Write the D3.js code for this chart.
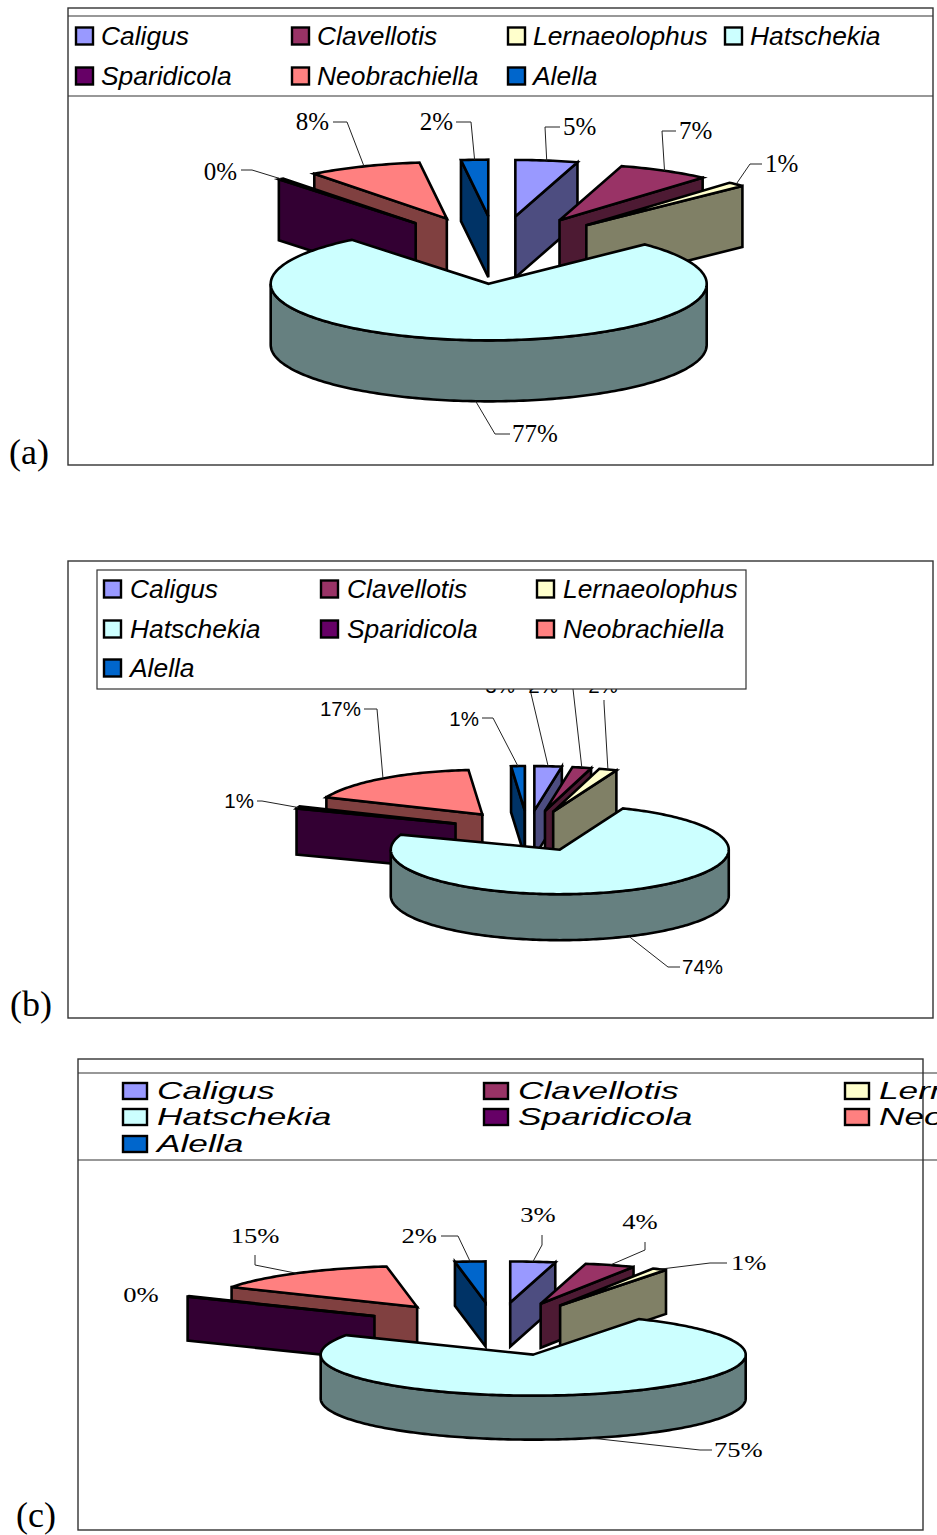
<!DOCTYPE html>
<html>
<head>
<meta charset="utf-8">
<style>
  html, body { margin: 0; padding: 0; background: #fff; }
  svg { display: block; }
</style>
<script src="https://cdnjs.cloudflare.com/ajax/libs/d3/7.8.5/d3.min.js"></script>
</head>
<body>
<div class="canvas"></div>
<script>
//genus names, same order in all three pies
const genera = ['Caligus', 'Clavellotis', 'Lernaeolophus', 'Hatschekia', 'Sparidicola', 'Neobrachiella', 'Alella'];
const genusColors = ['#9999ff', '#993366', '#ffffcc', '#ccffff', '#660066', '#ff8080', '#0066cc'];

//percentages (labels are these values rounded)
const valuesA = [4.6, 6.8, 1.3, 76.5, 0.4, 8.4, 2.0];
const valuesB = [2.6, 1.8, 1.7, 74.4, 0.8, 17.4, 1.3];
const valuesC = [3.4, 3.8, 1.1, 74.6, 0.2, 14.6, 2.3];

//legend column order per panel
const legendRowsA = [['Caligus', 'Clavellotis', 'Lernaeolophus', 'Hatschekia'], ['Sparidicola', 'Neobrachiella', 'Alella']];
const legendRowsB = [['Caligus', 'Clavellotis', 'Lernaeolophus'], ['Hatschekia', 'Sparidicola', 'Neobrachiella'], ['Alella']];
const legendRowsC = [['Caligus', 'Clavellotis', 'Lernaeolophus'], ['Hatschekia', 'Sparidicola', 'Neobrachiella'], ['Alella']];

//panel setup: geometry of the pie and where things sit on the page
const panels = [
  {
    letter: '(a)', letterX: 9, letterY: 464,
    values: valuesA,
    frame: { x: 68, y: 8, w: 865, h: 457 },
    lines: [16, 96],
    cx: 496.5, cy: 250, rx: 218, ry: 56.5, depth: 61, explode: 0.6,
    legendRows: legendRowsA,
    legend: { colX: [76, 292, 508, 725], rowY: [36, 76], swW: 17, swH: 17, textDx: 25, size: 26.4, stretch: 1 },
    labelFont: 'Liberation Serif', labelSize: 25, labelStretch: 1,
    //elbow, end of leader, text position and anchor for each genus
    leaders: [
      { elbow: [545, 127], end: [560, 127], text: [563, 135], anchor: 'start' },
      { elbow: [662, 131], end: [676, 131], text: [679, 139], anchor: 'start' },
      { elbow: [750, 164], end: [762, 164], text: [765, 172], anchor: 'start' },
      { elbow: [495, 434], end: [510, 434], text: [512, 442], anchor: 'start' },
      { elbow: [252, 170], end: [241, 170], text: [237, 180], anchor: 'end' },
      { elbow: [347, 122], end: [333, 122], text: [329, 130], anchor: 'end' },
      { elbow: [471, 122], end: [456, 122], text: [453, 130], anchor: 'end' }
    ]
  },
  {
    letter: '(b)', letterX: 10, letterY: 1016,
    values: valuesB,
    frame: { x: 68, y: 561, w: 865, h: 457 },
    lines: [],
    box: { x: 97, y: 570, w: 649, h: 119 },
    cx: 528, cy: 831, rx: 169, ry: 44.5, depth: 46, explode: 0.46,
    legendRows: legendRowsB,
    legend: { colX: [104, 321, 537], rowY: [589, 629, 668], swW: 17, swH: 17, textDx: 26, size: 26.4, stretch: 1 },
    labelFont: 'Liberation Sans', labelSize: 20.5, labelStretch: 1,
    leaders: [
      { elbow: [529, 685], end: [519, 685], text: [515, 693], anchor: 'end' },
      { elbow: [572, 680], end: [562, 680], text: [558, 693], anchor: 'end' },
      { elbow: [604, 703], end: [604, 700], text: [603, 693], anchor: 'middle' },
      { elbow: [668, 967], end: [680, 967], text: [682, 974], anchor: 'start' },
      { elbow: [262, 801], end: [257, 801], text: [254, 808], anchor: 'end' },
      { elbow: [377, 709], end: [364, 709], text: [361, 716], anchor: 'end' },
      { elbow: [493, 718], end: [482, 718], text: [479, 726], anchor: 'end' }
    ]
  },
  {
    letter: '(c)', letterX: 16, letterY: 1527,
    values: valuesC,
    frame: { x: 78, y: 1059, w: 845, h: 471 },
    lines: [1073, 1160],
    lineEnd: 937,
    cx: 495.5, cy: 1329, rx: 212.5, ry: 41, depth: 44, explode: 0.65,
    legendRows: legendRowsC,
    legend: { colX: [123, 484, 845], rowY: [1091, 1117, 1144], swW: 24, swH: 16, textDx: 34, size: 24, stretch: 1.47 },
    labelFont: 'Liberation Serif', labelSize: 20, labelStretch: 1.33,
    leaders: [
      { elbow: [542, 1245], end: [542, 1235], text: [538, 1222], anchor: 'middle' },
      { elbow: [645, 1250], end: [645, 1242], text: [640, 1229], anchor: 'middle' },
      { elbow: [710, 1263], end: [727, 1263], text: [731, 1270], anchor: 'start' },
      { elbow: [700, 1450], end: [712, 1450], text: [714, 1457], anchor: 'start' },
      { elbow: null, end: null, text: [141, 1302], anchor: 'middle' },
      { elbow: [255, 1265], end: [255, 1255], text: [255, 1243], anchor: 'middle' },
      { elbow: [458, 1236], end: [441, 1236], text: [437, 1243], anchor: 'end' }
    ]
  }
];

const svg = d3.select('.canvas')
  .append('svg')
  .attr('width', 937)
  .attr('height', 1535);

const color = d3.scaleOrdinal().domain(genera).range(genusColors);

//side faces are the top colour at half brightness
const shade = (c) => {
  const rgb = d3.rgb(c);
  return d3.rgb(rgb.r * 0.5, rgb.g * 0.5, rgb.b * 0.5).formatHex();
};

const pie = d3.pie().sort(null).value(d => d);

const drawPanel = (p) => {
  //unit circle -> flattened ellipse
  const xScale = d3.scaleLinear().domain([-1, 1]).range([-p.rx, p.rx]);
  const yScale = d3.scaleLinear().domain([-1, 1]).range([-p.ry, p.ry]);
  const line = d3.line().x(d => d[0]).y(d => d[1]);

  const g = svg.append('g');

  //frame first so the pie and labels sit on top
  g.append('rect')
    .attr('x', p.frame.x).attr('y', p.frame.y)
    .attr('width', p.frame.w).attr('height', p.frame.h)
    .attr('fill', '#fff').attr('stroke', '#333').attr('stroke-width', 1.4);

  const arcs = pie(p.values).map((a, i) => {
    const mid = (a.startAngle + a.endAngle) / 2;
    const apex = [
      p.cx + p.explode * xScale(Math.sin(mid)),
      p.cy - p.explode * yScale(Math.cos(mid))
    ];
    const rimPoint = (t, dy = 0) => [
      apex[0] + xScale(Math.sin(t)),
      apex[1] - yScale(Math.cos(t)) + dy
    ];
    return { ...a, i, mid, apex, rimPoint, name: genera[i] };
  });

  const arcPoints = (a0, a1, dy = 0, rimPoint) => {
    const n = Math.max(2, Math.ceil((a1 - a0) / 0.02));
    return d3.range(n + 1).map(k => rimPoint(a0 + (a1 - a0) * k / n, dy));
  };

  //painter's order: furthest slice (largest cos of the middle angle) first
  const order = arcs.slice().sort((a, b) => d3.descending(Math.cos(a.mid), Math.cos(b.mid)));

  const slices = g.append('g')
    .attr('stroke', '#000')
    .attr('stroke-width', 2.6)
    .attr('stroke-linejoin', 'miter');

  order.forEach(d => {
    const top = color(d.name);
    const side = shade(top);
    const gs = slices.append('g').attr('class', 'slice');
    const lowApex = [d.apex[0], d.apex[1] + p.depth];

    //cut face on the start edge, only seen when it faces the viewer
    if (Math.sin(d.startAngle) < 0) {
      const r = d.rimPoint(d.startAngle);
      gs.append('path')
        .attr('d', line([d.apex, r, [r[0], r[1] + p.depth], lowApex]) + 'Z')
        .attr('fill', side);
    }
    //same for the end edge
    if (Math.sin(d.endAngle) > 0) {
      const r = d.rimPoint(d.endAngle);
      gs.append('path')
        .attr('d', line([d.apex, r, [r[0], r[1] + p.depth], lowApex]) + 'Z')
        .attr('fill', side);
    }
    //outer wall for whatever part of the slice is on the front half
    const a0 = Math.max(d.startAngle, Math.PI / 2);
    const a1 = Math.min(d.endAngle, Math.PI * 1.5);
    if (a1 > a0) {
      const upper = arcPoints(a0, a1, 0, d.rimPoint);
      const lower = arcPoints(a0, a1, p.depth, d.rimPoint).reverse();
      gs.append('path')
        .attr('d', line(upper.concat(lower)) + 'Z')
        .attr('fill', side);
    }
    //top face
    const rim = arcPoints(d.startAngle, d.endAngle, 0, d.rimPoint);
    gs.append('path')
      .attr('d', line([d.apex].concat(rim)) + 'Z')
      .attr('fill', top);
  });

  //leader lines and percent labels
  arcs.forEach((d, i) => {
    const l = p.leaders[i];
    if (l.elbow) {
      //front-half slices get the leader from the bottom of the wall
      const onFront = Math.cos(d.mid) < 0;
      const from = d.rimPoint(d.mid, onFront ? p.depth : 0);
      g.append('path')
        .attr('d', line([from, l.elbow, l.end]))
        .attr('fill', 'none')
        .attr('stroke', '#222')
        .attr('stroke-width', 1);
    }
    g.append('text')
      .attr('transform', `translate(${l.text[0]},${l.text[1]}) scale(${p.labelStretch},1)`)
      .attr('text-anchor', l.anchor)
      .attr('font-family', p.labelFont)
      .attr('font-size', p.labelSize)
      .attr('fill', '#000')
      .text(`${Math.round(p.values[i])}%`);
  });

  //legend goes over the labels (panel b hides the tops of three of them)
  if (p.box) {
    g.append('rect')
      .attr('x', p.box.x).attr('y', p.box.y)
      .attr('width', p.box.w).attr('height', p.box.h)
      .attr('fill', '#fff').attr('stroke', '#333').attr('stroke-width', 1.2);
  }
  p.lines.forEach(y => {
    g.append('line')
      .attr('x1', p.frame.x).attr('x2', p.lineEnd || p.frame.x + p.frame.w)
      .attr('y1', y).attr('y2', y)
      .attr('stroke', '#333').attr('stroke-width', 1.2);
  });

  const lg = p.legend;
  p.legendRows.forEach((row, r) => {
    row.forEach((name, c) => {
      const x = lg.colX[c];
      const y = lg.rowY[r];
      g.append('rect')
        .attr('x', x).attr('y', y - lg.swH / 2)
        .attr('width', lg.swW).attr('height', lg.swH)
        .attr('fill', color(name))
        .attr('stroke', '#000').attr('stroke-width', 2.4);
      g.append('text')
        .attr('transform', `translate(${x + lg.textDx},${y + lg.size * 0.35}) scale(${lg.stretch},1)`)
        .attr('font-family', 'Liberation Sans')
        .attr('font-style', 'italic')
        .attr('font-size', lg.size)
        .attr('fill', '#000')
        .text(name);
    });
  });

  svg.append('text')
    .attr('x', p.letterX).attr('y', p.letterY)
    .attr('font-family', 'Liberation Serif')
    .attr('font-size', 36)
    .attr('fill', '#000')
    .text(p.letter);
};

panels.forEach(drawPanel);
</script>
</body>
</html>
